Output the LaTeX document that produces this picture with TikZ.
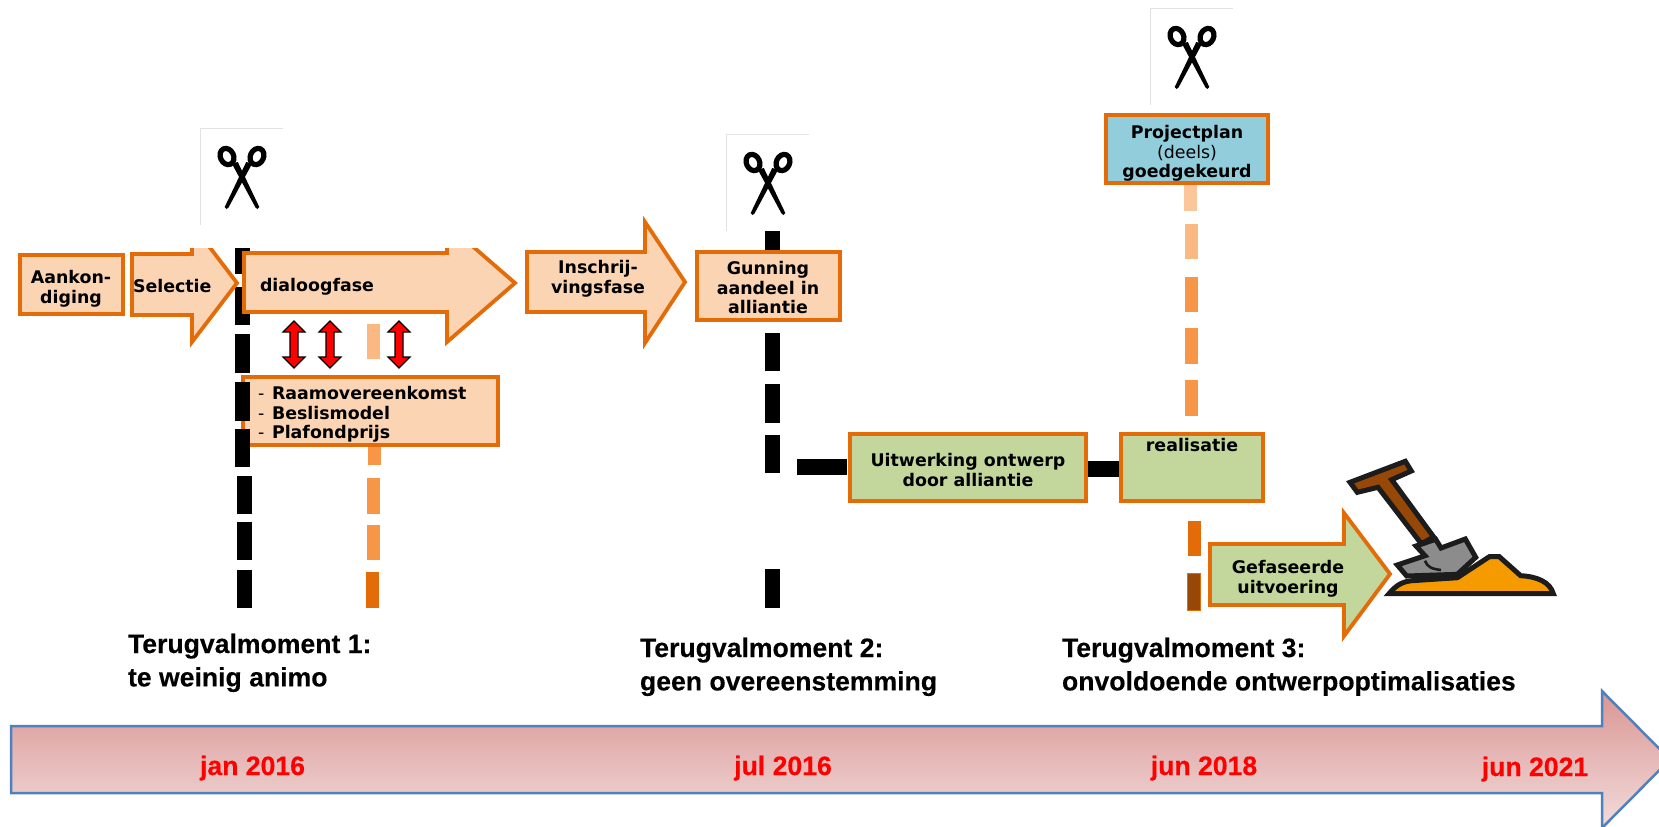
\documentclass[tikz,border=0pt]{standalone}
\usepackage{fontspec}
\setmainfont{DejaVu Sans}
\newfontfamily\arialfont[BoldFeatures={FakeBold=0.25}]{Liberation Sans}
\definecolor{orangeline}{HTML}{E36C09}
\definecolor{peach}{HTML}{FBD4B4}
\definecolor{leaf}{HTML}{C3D69B}
\definecolor{sky}{HTML}{92CDDC}
\definecolor{midorange}{HTML}{F79646}
\definecolor{paleorange}{HTML}{FAB883}
\definecolor{palerorange}{HTML}{FBC69A}
\definecolor{darkbrown}{HTML}{974706}
\definecolor{framegrey}{HTML}{E2E2E2}
\definecolor{barblue}{HTML}{4F81BD}
\definecolor{bartop}{HTML}{D99694}
\definecolor{barbottom}{HTML}{F2DCDB}
\definecolor{shovelink}{HTML}{1C1C1C}
\definecolor{handlebrown}{HTML}{974806}
\definecolor{bladegrey}{HTML}{8C8C8C}
\definecolor{sand}{HTML}{F59B00}
\newcommand\ctext[1]{\begin{tabular}[t]{@{}c@{}}#1\end{tabular}}
\newcommand\ltext[1]{\begin{tabular}[t]{@{}l@{}}#1\end{tabular}}
\newcommand\dashbar[4]{\fill[#4] (#1,#2) rectangle ++(12.5,#3);}
\newcommand\scissorsicon[2]{%
  \begin{scope}[shift={(#1,#2)}]
    \draw[framegrey,line width=0.5pt] (-41.5,50) -- (-41.5,-47) -- (41,-47);
    \foreach \s in {1,-1}{
      \begin{scope}[xshift=0.25pt,xscale=\s]
        \draw[black,line width=2.6pt] (-15,-18.5) ellipse [x radius=6.6, y radius=8.4, rotate=25];
        \fill[black] (-10.2,-11.5) -- (-4.2,-13) -- (17.3,32) -- (15.5,34) -- (13.5,32.5) -- cycle;
      \end{scope}}
  \end{scope}}
\tikzset{
  box/.style={draw=orangeline,line width=2pt,inner sep=0pt,outer sep=0pt},
  arrowshape/.style={draw=orangeline,line width=1.9pt,miter limit=10},
  lbl/.style={inner sep=0pt,outer sep=0pt,anchor=base,yshift=-0.9pt,font=\fontsize{8.7}{9.7}\selectfont\bfseries},
  lblleft/.style={lbl,anchor=base west},
  fallback/.style={inner sep=0pt,outer sep=0pt,anchor=base west,font=\fontsize{13.3}{16.7}\selectfont\arialfont\bfseries},
  datelbl/.style={inner sep=0pt,outer sep=0pt,anchor=base,text=red,font=\fontsize{13.3}{16}\selectfont\arialfont\bfseries},
  doublearrow/.style={fill=red,draw=black,line width=0.55pt,miter limit=10},
  barconn/.style={draw=black,line width=8pt},
  shovelpart/.style={draw=shovelink,line width=2.5pt,line join=miter,miter limit=6},
}
\begin{document}
\begin{tikzpicture}[x=0.5pt,y=-0.5pt]
\useasboundingbox (0,0) rectangle (1659,826);
\clip (0,0) rectangle (1659,826);

% time bar
\shade[draw=barblue,line width=1.25pt,top color=bartop,bottom color=barbottom]
  (11,726) -- (1602,726) -- (1602,691) -- (1670,759.5) -- (1602,828) -- (1602,793) -- (11,793) -- cycle;
\node[datelbl] (d1) at (252.5,775) {jan 2016};
\node[datelbl] (d2) at (783,775) {jul 2016};
\node[datelbl] (d3) at (1204,775) {jun 2018};
\node[datelbl] (d4) at (1535,776) {jun 2021};

% fall-back texts
\node[fallback] (t1) at (128,653) {\ltext{Terugvalmoment 1:\\te weinig animo}};
\node[fallback] (t2) at (640,657) {\ltext{Terugvalmoment 2:\\geen overeenstemming}};
\node[fallback] (t3) at (1062,657) {\ltext{Terugvalmoment 3:\\onvoldoende ontwerpoptimalisaties}};

% scissors
\scissorsicon{241.5}{175}
\scissorsicon{767.5}{181}
\scissorsicon{1191.5}{55}

% orange dashed line 1
\dashbar{367}{324}{35}{paleorange}
\dashbar{368}{440}{25}{midorange}
\dashbar{367}{478}{36}{midorange}
\dashbar{367}{525}{35}{midorange}
\dashbar{366}{572}{36}{orangeline}

% orange dashed line 3
\dashbar{1184}{180}{31}{palerorange}
\dashbar{1185}{224}{35}{paleorange}
\dashbar{1185}{277}{35}{midorange}
\dashbar{1185}{328}{36}{midorange}
\dashbar{1185}{380}{36}{midorange}
\dashbar{1188}{521}{35}{orangeline}
\fill[darkbrown,draw=orangeline,line width=0.5pt] (1187.5,573.5) rectangle (1200.5,610.5);

% boxes
\node[box,fill=peach,minimum width=127.5pt,minimum height=34pt] (raam) at (370.5,411) {};

% black dashed line 1
\foreach \a/\b in {248/274,287/325,334/373,382/421,429/467}{\fill[black] (235,\a) rectangle (250,\b);}
\foreach \a/\b in {476/514,522/560,570/608}{\fill[black] (236.5,\a) rectangle (252,\b);}

% black dashed line 2
\foreach \a/\b in {231/255,333/371,384/423,435/473,569/608}{\fill[black] (765,\a) rectangle (780,\b);}

\node[box,fill=peach,minimum width=51.5pt,minimum height=29.5pt] (aank) at (71.5,284.5) {};
\node[box,fill=peach,minimum width=71.5pt,minimum height=34pt] (gun) at (768.5,286) {};
\node[box,fill=leaf,minimum width=118pt,minimum height=33.5pt] (uit) at (968,467.5) {};
\node[box,fill=leaf,minimum width=71pt,minimum height=33.5pt] (real) at (1192,467.5) {};
\node[box,fill=sky,minimum width=81pt,minimum height=34pt] (proj) at (1187,149) {};

% connectors
\coordinate (hstart) at (797,467);
\draw[barconn,shorten >=1.5pt] (hstart) -- (uit.west |- hstart);
\draw[barconn] ([yshift=-0.75pt]uit.east) -- ([yshift=-0.75pt]real.west);
\draw[box,fill=none] (uit.north west) rectangle (uit.south east);
\draw[box,fill=none] (real.north west) rectangle (real.south east);

% block arrows
\begin{scope}
  \clip (0,248) rectangle (525,826);
  \draw[arrowshape,fill=peach] (132,254) -- (192,254) -- (192,224) -- (237,283) -- (192,342) -- (192,315) -- (132,315) -- cycle;
  \draw[arrowshape,fill=peach] (244,253) -- (447,253) -- (447,224) -- (515,283) -- (447,342) -- (447,312) -- (244,312) -- cycle;
\end{scope}
\draw[arrowshape,fill=peach] (527,252) -- (645,252) -- (645,222) -- (685,282) -- (645,343) -- (645,312) -- (527,312) -- cycle;
\draw[arrowshape,fill=leaf] (1210,544) -- (1344,544) -- (1344,513) -- (1390,574) -- (1344,636) -- (1344,605) -- (1210,605) -- cycle;

% red double arrows
\foreach \x in {294,330,399}{
  \draw[doublearrow] (\x,321) -- (\x+11,332) -- (\x+4,332) -- (\x+4,357) -- (\x+11,357) -- (\x,368)
     -- (\x-11,357) -- (\x-4,357) -- (\x-4,332) -- (\x-11,332) -- cycle;}

% labels
\node[lbl] (laank) at (71,282) {\ctext{Aankon-\\diging}};
\node[lblleft] (lsel) at (133,291) {Selectie};
\node[lblleft] (ldia) at (260,290) {dialoogfase};
\node[lblleft] (lraam) at (258,398) {\ltext{\makebox[7pt][l]{\mdseries -}Raamovereenkomst\\\makebox[7pt][l]{\mdseries -}Beslismodel\\\makebox[7pt][l]{\mdseries -}Plafondprijs}};
\node[lbl] (lins) at (598,272) {\ctext{Inschrij-\\vingsfase}};
\node[lbl] (lgun) at (768,273) {\ctext{Gunning\\aandeel in\\alliantie}};
\node[lbl] (lproj) at (1187,137) {\ctext{Projectplan\\{\mdseries (deels)}\\goedgekeurd}};
\node[lbl] (luit) at (968,465) {\ctext{Uitwerking ontwerp\\door alliantie}};
\node[lbl] (lreal) at (1192,450) {realisatie};
\node[lbl] (lgef) at (1288,572) {\ctext{Gefaseerde\\uitvoering}};

% shovel
\draw[shovelpart,fill=handlebrown] (1350,482.3) -- (1405.3,461.3) -- (1411.3,471) -- (1391.7,479.7) -- (1433.7,537)
   -- (1421.3,543.7) -- (1378,487.3) -- (1357.3,492.3) -- cycle;
\draw[shovelpart,fill=bladegrey] (1416,546) -- (1435.7,539.3) -- (1441,548) -- (1465.3,539) -- (1475.7,557.3) -- (1457.3,574.3)
   -- (1406.7,576) -- (1397.3,565) -- (1425,555.7) -- cycle;
\draw[shovelpart,fill=sand] (1389,593.7) .. controls (1396,585) and (1403,581.5) .. (1411.7,580.7) -- (1457.3,577.7)
   -- (1489.3,556.7) -- (1499.3,556.7) -- (1520.7,575.7) .. controls (1537,576.5) and (1550,582) .. (1553.3,593.7) -- cycle;
\draw[shovelink,line width=1.3pt] (1425,560.7) .. controls (1427,567) and (1432,569) .. (1441,570);
\end{tikzpicture}
\end{document}
